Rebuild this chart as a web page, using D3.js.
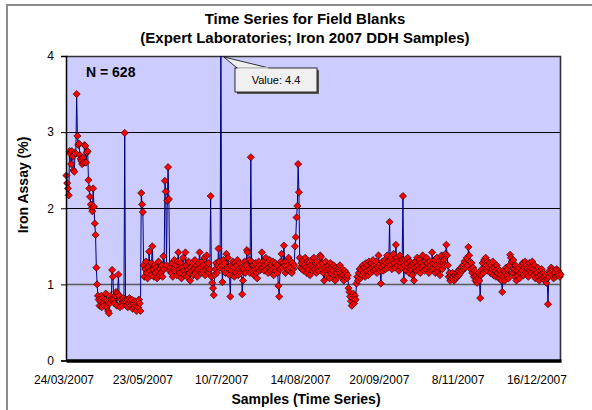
<!DOCTYPE html>
<html>
<head>
<meta charset="utf-8">
<script src="https://cdn.jsdelivr.net/npm/d3@7"></script>
<style>
  html, body { margin: 0; padding: 0; background: #ffffff; }
  svg { display: block; font-family: "Liberation Sans", Arial, sans-serif; }
</style>
</head>
<body>
<svg id="chart" width="592" height="410"></svg>
<script>
// ---------------- DATA ----------------
const chartTitle = ["Time Series for Field Blanks", "(Expert Laboratories; Iron 2007 DDH Samples)"];
const yAxisTitle = "Iron Assay (%)";
const xAxisTitle = "Samples (Time Series)";
const countLabel = "N = 628";
const calloutLabel = "Value: 4.4";
const calloutIndex = 196;

const yTickValues = [0, 1, 2, 3, 4];
const xTickIndex = [0, 100, 200, 300, 400, 500, 600];
const xTickLabels = ["24/03/2007", "23/05/2007", "10/7/2007", "14/08/2007", "20/09/2007", "8/11/2007", "16/12/2007"];

// Iron assay values (%) of the 628 field blanks, in sample order
const assayStart = [
  2.43, 2.33, 2.26, 2.17, 2.75, 2.72, 2.58, 2.75, 2.68, 2.50,
  2.48, 2.73, 2.72, 3.50, 2.95, 2.83, 2.85, 2.70, 2.65, 2.62,
  2.58, 2.66, 2.60, 2.83, 2.82, 2.60, 2.73, 2.75, 2.37, 2.26,
  2.15, 2.05, 2.00, 1.96, 2.26, 2.02, 1.80, 1.65, 1.22, 1.00
];
const assayLow = [
  0.85, 0.80, 0.72, 0.78, 0.85, 0.70, 0.82, 0.75, 0.72, 0.80, 0.88, 0.70, 0.78, 0.65, 0.62, 0.75, 0.85, 0.80,
  1.19, 1.10,
  0.80, 0.75, 0.85, 0.90, 0.72, 0.88,
  1.13,
  0.85, 0.70, 0.80, 0.75, 0.72, 0.82, 0.78,
  2.99,
  0.78, 0.72, 0.80, 0.70, 0.75, 0.82, 0.78, 0.72, 0.80, 0.68, 0.75, 0.70, 0.78, 0.72, 0.65, 0.75, 0.70, 0.80, 0.75, 0.65
];
const assayMidA = [
  2.20, 2.05, 1.95,
  1.25, 1.10, 1.20, 1.30, 1.15, 1.08, 1.22, 1.43, 1.18, 1.12, 1.28, 1.50, 1.20, 1.10, 1.25, 1.15, 1.22, 1.08, 1.18, 1.30, 1.12, 1.20, 1.15, 1.25, 1.10, 1.37, 1.20,
  2.36, 2.22, 1.25, 2.10, 2.54, 2.12, 1.18,
  1.22, 1.15, 1.28, 1.10, 1.20, 1.32, 1.18, 1.25, 1.12, 1.30,
  1.42, 1.20, 1.15, 1.28, 1.08, 1.22, 1.35, 1.18, 1.12,
  1.42, 1.25, 1.10, 1.20, 1.30, 1.15, 1.05, 1.22, 1.18, 1.28, 1.12, 1.20, 1.32, 1.15, 1.25, 1.10, 1.20, 1.28,
  1.42, 1.22, 1.15, 1.30, 1.18, 1.25, 1.35, 1.12, 1.20, 1.38, 1.22, 1.28, 1.15,
  1.20,
  2.16,
  1.10, 1.02, 0.95, 0.86, 1.12,
  1.20, 1.28, 1.15, 1.25, 1.47, 1.30, 1.22,
  4.40,
  1.25, 1.03, 1.32, 1.18, 1.28, 1.15, 1.40, 1.22, 1.35, 1.20,
  1.12, 0.84, 1.25,
  1.18, 1.30, 1.22, 1.10, 1.28, 1.15, 1.25, 1.32, 1.12, 1.20, 1.28, 1.15, 1.22,
  0.87, 1.05,
  1.20, 1.30, 1.15, 1.25,
  1.45, 1.42,
  1.20, 1.32, 1.15,
  2.67,
  1.30, 1.18, 1.25, 1.12, 1.20, 1.28, 1.15, 1.08, 1.22, 1.30, 1.18, 1.25, 1.20,
  1.42,
  1.22, 1.30, 1.18, 1.25, 1.35, 1.20, 1.28, 1.15, 1.22, 1.32, 1.18, 1.25, 1.20, 1.30, 1.12, 1.22, 1.28, 1.18, 1.25, 1.15,
  0.98, 0.84,
  1.20, 1.30, 1.40, 1.22, 1.28, 1.51, 1.25, 1.15, 1.30, 1.20, 1.25, 1.35, 1.18, 1.22, 1.30, 1.15, 1.28, 1.20, 1.25,
  1.50, 1.62, 1.88, 2.03, 2.58, 2.21, 1.35, 1.22
];
const assayMidB = [
  1.28, 1.20, 1.32, 1.18, 1.25, 1.35, 1.22, 1.15, 1.30, 1.20,
  1.28, 1.12, 1.25, 1.32, 1.18, 1.22, 1.35, 1.20, 1.28, 1.15,
  1.30, 1.22, 1.18, 1.25, 1.38, 1.36, 1.20, 1.28, 1.15, 1.05,
  1.22, 1.30, 1.18, 1.12, 1.25, 1.20, 1.08, 1.28, 1.15, 1.22,
  1.18, 1.25, 1.12, 1.05, 1.22, 1.15, 1.20, 1.10, 1.18, 1.25,
  1.15, 1.10, 1.20, 1.12, 1.05, 1.18, 1.10, 1.15, 1.08, 1.12,
  0.95, 0.90, 0.84, 0.78, 0.72, 0.82, 0.88, 0.75, 0.85, 0.80, 1.01,
  1.10, 1.05, 1.15, 1.20, 1.08, 1.18, 1.12, 1.25, 1.15, 1.22,
  1.10, 1.28, 1.18, 1.25, 1.12, 1.30, 1.20, 1.15, 1.28, 1.22,
  1.32, 1.18, 1.25, 1.20, 1.30, 1.15, 1.22, 1.38, 1.25, 1.18,
  1.01, 1.22, 1.30, 1.18, 1.25, 1.32, 1.20, 1.28, 1.38, 1.22,
  1.30,
  1.82,
  1.25, 1.35, 1.20, 1.30, 1.40, 1.28, 1.22, 1.52, 1.35, 1.25, 1.30, 1.18, 1.38, 1.28, 1.22, 1.32,
  2.16, 1.05
];
const assayEnd = [
  1.25, 1.32, 1.18, 1.28, 1.35, 1.22, 1.15, 1.30, 1.20, 1.25,
  1.12, 1.28, 1.05, 1.22, 1.30, 1.18, 1.35, 1.25, 1.20, 1.32,
  1.15, 1.28, 1.22, 1.38, 1.25, 1.18, 1.30, 1.20, 1.35, 1.28,
  1.22, 1.15, 1.30, 1.25, 1.20,
  1.42,
  1.28, 1.20, 1.32, 1.15, 1.25, 1.35, 1.18, 1.22, 1.30, 1.12, 1.25, 1.38, 1.20, 1.28, 1.32, 1.25, 1.40,
  1.52,
  1.38, 1.25, 1.10, 1.15, 1.05, 1.12, 1.08, 1.15, 1.10, 1.05,
  1.12, 1.08, 1.15, 1.10, 1.18, 1.12, 1.20, 1.15, 1.22, 1.18,
  1.25, 1.20, 1.30, 1.22, 1.28, 1.35, 1.25,
  1.49, 1.38,
  1.30, 1.20, 1.28, 1.15, 1.22, 1.10, 1.18, 1.05, 1.12, 1.02, 1.08, 1.15, 1.05,
  0.82,
  1.12, 1.20, 1.28, 1.15, 1.32, 1.22, 1.35, 1.25, 1.18, 1.30,
  1.22, 1.28, 1.15, 1.25, 1.20, 1.30, 1.12, 1.22, 1.18, 1.10,
  1.25, 1.15, 1.20, 1.08, 1.18, 1.12, 1.05,
  0.90,
  1.10, 1.18, 1.05, 1.15, 1.22, 1.12, 1.20, 1.08, 1.25,
  1.39, 1.35, 1.30, 1.15, 1.32,
  1.20, 1.10, 1.25, 1.05, 1.18, 1.12, 1.22, 1.08, 1.15, 1.25,
  1.18, 1.28, 1.12, 1.22, 1.30, 1.15, 1.25, 1.20, 1.10, 1.28,
  1.18, 1.22, 1.15, 1.30, 1.20, 1.12, 1.25, 1.08, 1.18, 1.15,
  1.22, 1.10, 1.05, 1.18, 1.12, 1.20, 1.08, 1.15, 1.10, 1.05,
  1.12, 1.02, 1.08,
  0.74,
  1.10, 1.18, 1.15, 1.22, 1.12, 1.20, 1.08, 1.18, 1.15, 1.10, 1.20, 1.12, 1.18, 1.15, 1.10, 1.13
];
const assayValues = [].concat(assayStart, assayLow, assayMidA, assayMidB, assayEnd);

// ---------------- LAYOUT ----------------
const svg = d3.select("#chart");
const font = "'Liberation Sans', Arial, sans-serif";
const plot = { left: 66, right: 561, top: 56, bottom: 360.5 };
const nSamples = assayValues.length;

const x = d3.scaleLinear().domain([0, nSamples]).range([plot.left, plot.right]);
const y = d3.scaleLinear().domain([0, 4]).range([plot.bottom, plot.top]);
const xc = i => x(i + 0.5);

// outer chart frame
svg.append("rect")
  .attr("x", 7).attr("y", 5).attr("width", 700).attr("height", 500)
  .attr("fill", "#ffffff").attr("stroke", "#8c8c8c").attr("stroke-width", 2);

// plot background
svg.append("rect")
  .attr("x", plot.left).attr("y", plot.top)
  .attr("width", plot.right - plot.left).attr("height", plot.bottom - plot.top)
  .attr("fill", "#ccccff");

// gridlines
svg.append("g").selectAll("line")
  .data(yTickValues.filter(v => v > 0 && v < 4))
  .join("line")
  .attr("x1", plot.left).attr("x2", plot.right)
  .attr("y1", d => Math.round(y(d)) + 0.5).attr("y2", d => Math.round(y(d)) + 0.5)
  .attr("stroke", d => d === 1 ? "#5a5a5a" : "#000000")
  .attr("stroke-width", d => d === 1 ? 1.6 : 1);

// plot border (top / right)
svg.append("path")
  .attr("d", `M${plot.left},${plot.top + 0.5} H${plot.right - 0.5} V${plot.bottom}`)
  .attr("fill", "none").attr("stroke", "#333333").attr("stroke-width", 1.6);

// clip for series
svg.append("clipPath").attr("id", "clip")
  .append("rect")
  .attr("x", plot.left - 6).attr("y", plot.top)
  .attr("width", plot.right - plot.left + 12).attr("height", plot.bottom - plot.top + 6);

const series = svg.append("g").attr("clip-path", "url(#clip)");

series.append("path")
  .datum(assayValues)
  .attr("fill", "none")
  .attr("stroke", "#000080")
  .attr("stroke-width", 1)
  .attr("d", d3.line().x((d, i) => xc(i)).y(d => y(d)));

const r = 3.6;
const diamondPath = `M0,${-r}L${r},0L0,${r}L${-r},0Z`;
series.append("g").selectAll("path")
  .data(assayValues)
  .join("path")
  .attr("transform", (d, i) => `translate(${xc(i)},${y(d)})`)
  .attr("d", diamondPath)
  .attr("fill", "#ff0000")
  .attr("stroke", "#000000")
  .attr("stroke-width", 0.6);

// y axis
const yAxis = svg.append("g")
  .attr("transform", `translate(${plot.left},0)`)
  .call(d3.axisLeft(y).tickValues(yTickValues).tickSize(5).tickPadding(7).tickFormat(d3.format("d")));
yAxis.select(".domain").attr("stroke", "#000").attr("stroke-width", 1.5);
yAxis.selectAll(".tick line").attr("stroke", "#000");
yAxis.selectAll("text").attr("font-family", font).attr("font-size", 12).attr("fill", "#000");

// x axis (labels at every 100th sample)
const xAxis = svg.append("g")
  .attr("transform", `translate(0,${plot.bottom})`)
  .call(d3.axisBottom(x)
    .tickValues(xTickIndex)
    .tickFormat((d, k) => xTickLabels[k])
    .tickSize(0).tickPadding(15));
xAxis.select(".domain").attr("stroke", "#000").attr("stroke-width", 3.5);
xAxis.selectAll("text").attr("font-family", font).attr("font-size", 12).attr("fill", "#000").attr("dx", -2.5);

// titles
svg.append("g").selectAll("text")
  .data(chartTitle)
  .join("text")
  .attr("x", 305).attr("y", (d, i) => 24 + i * 19)
  .attr("text-anchor", "middle")
  .attr("font-family", font).attr("font-weight", "bold").attr("font-size", 15)
  .text(d => d);

svg.append("text")
  .attr("transform", "translate(28,185) rotate(-90)")
  .attr("text-anchor", "middle")
  .attr("font-family", font).attr("font-weight", "bold").attr("font-size", 14)
  .text(yAxisTitle);

svg.append("text")
  .attr("x", 306).attr("y", 404)
  .attr("text-anchor", "middle")
  .attr("font-family", font).attr("font-weight", "bold").attr("font-size", 14)
  .text(xAxisTitle);

svg.append("text")
  .attr("x", 86).attr("y", 77)
  .attr("font-family", font).attr("font-weight", "bold").attr("font-size", 14)
  .text(countLabel);

// callout for the clipped point
const px = xc(calloutIndex), py = plot.top + 1;
const box = { x: 235, y: 68, w: 82, h: 24 };
svg.append("rect")
  .attr("x", box.x + 2).attr("y", box.y + 2).attr("width", box.w).attr("height", box.h)
  .attr("fill", "#555555");
svg.append("path")
  .attr("d", `M${px + 3},${py} L${box.x + 2},${box.y} L${box.x + 34},${box.y} Z`)
  .attr("fill", "#f0f0f0").attr("stroke", "#000").attr("stroke-width", 0.8);
svg.append("rect")
  .attr("x", box.x).attr("y", box.y).attr("width", box.w).attr("height", box.h)
  .attr("fill", "#f0f0f0").attr("stroke", "#000").attr("stroke-width", 0.8);
svg.append("path")
  .attr("d", `M${box.x + 2.5},${box.y} L${box.x + 33.5},${box.y}`)
  .attr("stroke", "#f0f0f0").attr("stroke-width", 1.4);
svg.append("text")
  .attr("x", box.x + box.w / 2).attr("y", box.y + 16)
  .attr("text-anchor", "middle")
  .attr("font-family", font).attr("font-size", 11)
  .text(calloutLabel);
</script>
</body>
</html>
